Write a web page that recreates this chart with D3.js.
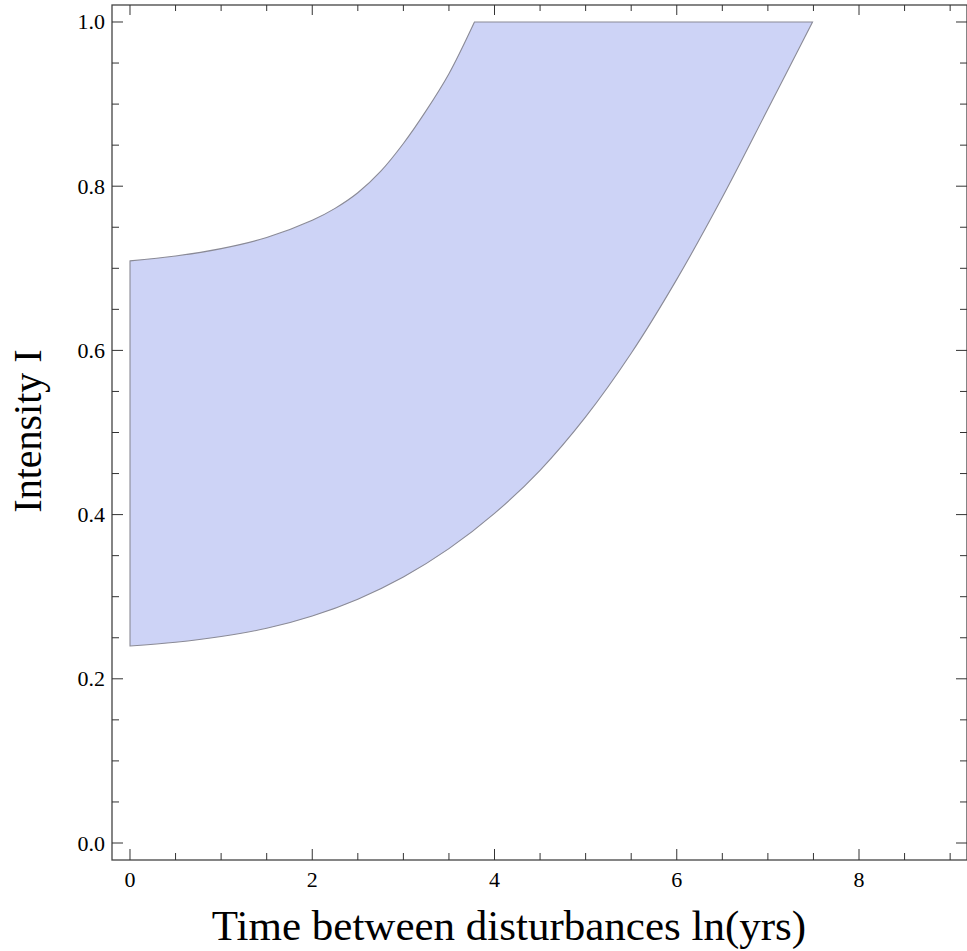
<!DOCTYPE html>
<html>
<head>
<meta charset="utf-8">
<script src="https://cdn.jsdelivr.net/npm/d3@7"></script>
<style>
  body { margin: 0; background: #fff; }
  svg text { font-family: "Liberation Serif", "Times New Roman", serif; fill: #000; }
</style>
</head>
<body>
<div id="chart"></div>
<script>
// values
const lowerX = [0, 0.5, 1, 1.5, 2, 2.5, 3, 3.5, 4, 4.5, 5, 5.5, 6, 6.5, 7, 7.49];
const lowerI = [0.24, 0.2445, 0.2515, 0.2615, 0.2765, 0.297, 0.324, 0.3585, 0.4015, 0.454, 0.519, 0.5965, 0.6865, 0.7865, 0.894, 1.0];
const upperX = [0, 0.5, 1, 1.5, 2, 2.25, 2.5, 2.75, 3, 3.25, 3.5, 3.78];
const upperI = [0.709, 0.715, 0.724, 0.7375, 0.7585, 0.773, 0.792, 0.818, 0.852, 0.892, 0.937, 1.0];
const xTicks = [0, 2, 4, 6, 8];
const yTicks = [0.0, 0.2, 0.4, 0.6, 0.8, 1.0];

const width = 967, height = 951;
const frame = { left: 112, right: 967, top: 5, bottom: 860 };

const svg = d3.select("#chart").append("svg")
  .attr("width", width)
  .attr("height", height);

const x = d3.scaleLinear().domain([-0.1975, 9.185]).range([frame.left, frame.right]);
const y = d3.scaleLinear().domain([-0.0207, 1.0207]).range([frame.bottom, frame.top]);

// region between the two curves
const lower = lowerX.map((d, i) => [d, lowerI[i]]);
const upper = upperX.map((d, i) => [d, upperI[i]]).reverse();

const line = d3.line()
  .x(d => x(d[0]))
  .y(d => y(d[1]))
  .curve(d3.curveCatmullRom);

const pathD = line(lower) + "L" + line(upper).slice(1) + "Z";

svg.append("path")
  .attr("d", pathD)
  .attr("fill", "#cdd3f6")
  .attr("stroke", "#8a8a96")
  .attr("stroke-width", 1.1);

// frame
const g = svg.append("g");
g.append("rect")
  .attr("x", frame.left)
  .attr("y", frame.top)
  .attr("width", frame.right - frame.left)
  .attr("height", frame.bottom - frame.top)
  .attr("fill", "none")
  .attr("stroke", "#444")
  .attr("stroke-width", 1.3);

const xMinor = d3.range(0, 9.01, 0.5);
const yMinor = d3.range(0, 1.001, 0.05);

function isMajor(v, step) {
  return Math.abs(v / step - Math.round(v / step)) < 1e-6;
}

// x ticks bottom + top
xMinor.forEach(v => {
  const len = isMajor(v, 2) ? 11 : 7;
  g.append("line")
    .attr("x1", x(v)).attr("x2", x(v))
    .attr("y1", frame.bottom).attr("y2", frame.bottom - len)
    .attr("stroke", "#333");
  g.append("line")
    .attr("x1", x(v)).attr("x2", x(v))
    .attr("y1", frame.top).attr("y2", frame.top + len - 1)
    .attr("stroke", "#333");
});

// y ticks left + right
yMinor.forEach(v => {
  const len = isMajor(v, 0.2) ? 11 : 7;
  g.append("line")
    .attr("x1", frame.left).attr("x2", frame.left + len)
    .attr("y1", y(v)).attr("y2", y(v))
    .attr("stroke", "#333");
  g.append("line")
    .attr("x1", frame.right).attr("x2", frame.right - len)
    .attr("y1", y(v)).attr("y2", y(v))
    .attr("stroke", "#333");
});

// tick labels
svg.selectAll(".xlab")
  .data(xTicks)
  .enter()
  .append("text")
  .attr("class", "xlab")
  .attr("x", d => x(d))
  .attr("y", 887)
  .attr("text-anchor", "middle")
  .attr("font-size", 22)
  .text(d => d);

svg.selectAll(".ylab")
  .data(yTicks)
  .enter()
  .append("text")
  .attr("class", "ylab")
  .attr("x", 105)
  .attr("y", d => y(d) + 7.5)
  .attr("text-anchor", "end")
  .attr("font-size", 22)
  .text(d => d.toFixed(1));

// axis titles
svg.append("text")
  .attr("x", 509)
  .attr("y", 940)
  .attr("text-anchor", "middle")
  .attr("font-size", 43)
  .text("Time between disturbances ln(yrs)");

svg.append("text")
  .attr("transform", "translate(41,431) rotate(-90)")
  .attr("text-anchor", "middle")
  .attr("font-size", 40)
  .text("Intensity I");
</script>
</body>
</html>
